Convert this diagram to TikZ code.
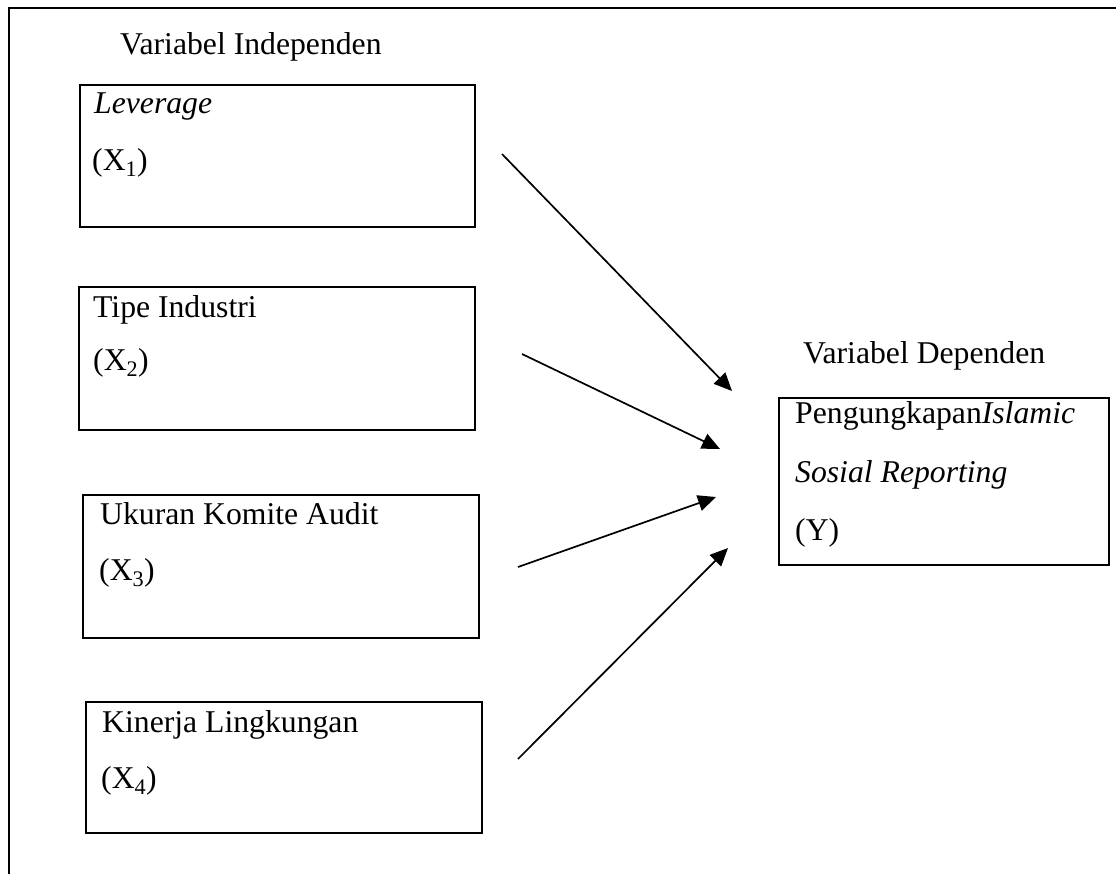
\documentclass[tikz,border=0pt]{standalone}
\usepackage{fontspec}
\setmainfont{Liberation Serif}
\usetikzlibrary{arrows.meta}
\begin{document}
\begin{tikzpicture}[x=1pt,y=-1pt,
  box/.style={draw, line width=2.4pt, outer sep=0pt, inner sep=0pt, anchor=north west},
  lbl/.style={anchor=base west, inner sep=0pt, font=\fontsize{31.7}{38}\selectfont},
  arr/.style={line width=1.7pt, -{Triangle[length=18pt,width=16pt]}}]
\useasboundingbox (0,0) rectangle (1116,873);
% frame
\coordinate (f1) at (9,874);
\coordinate (f2) at (9,8);
\coordinate (f3) at (1117,8);
\draw[line width=2.6pt] (f1) -- (f2) -- (f3);
% headings
\node[lbl] (hi) at (120,54) {Variabel Independen};
\node[lbl] (hd) at (803,363) {Variabel Dependen};
% boxes
\node[box, minimum width=395pt, minimum height=142pt] (b1) at (80,85) {};
\node[box, minimum width=396pt, minimum height=143pt] (b2) at (79,287) {};
\node[box, minimum width=396pt, minimum height=143pt] (b3) at (83,495) {};
\node[box, minimum width=396pt, minimum height=131pt] (b4) at (86,702) {};
\node[box, minimum width=330pt, minimum height=167pt] (by) at (779,398) {};
% texts
\node[lbl] (t1a) at (94,113) {\textit{Leverage}};
\node[lbl] (t1b) at (92,170) {(X\textsubscript{1})};
\node[lbl] (t2a) at (93,317) {Tipe Industri};
\node[lbl] (t2b) at (93,370) {(X\textsubscript{2})};
\node[lbl] (t3a) at (100,524) {Ukuran Komite Audit};
\node[lbl] (t3b) at (99,580) {(X\textsubscript{3})};
\node[lbl] (t4a) at (102,732) {Kinerja Lingkungan};
\node[lbl] (t4b) at (101,788) {(X\textsubscript{4})};
\node[lbl] (tya) at (795,423) {Pengungkapan\textit{Islamic}};
\node[lbl] (tyb) at (795,482) {\textit{Sosial Reporting}};
\node[lbl] (tyc) at (795,540) {(Y)};
% arrows
\coordinate (s1) at (502,154);
\coordinate (e1) at (732,391);
\coordinate (s2) at (522,354);
\coordinate (e2) at (720,449);
\coordinate (s3) at (518,567);
\coordinate (e3) at (716,497);
\coordinate (s4) at (518,759);
\coordinate (e4) at (728,548);
\draw[arr] (s1) -- (e1);
\draw[arr] (s2) -- (e2);
\draw[arr] (s3) -- (e3);
\draw[arr] (s4) -- (e4);
\end{tikzpicture}
\end{document}
